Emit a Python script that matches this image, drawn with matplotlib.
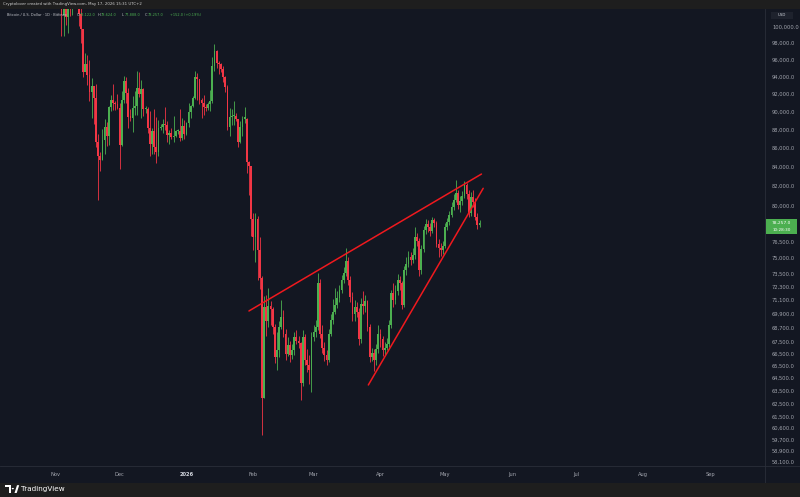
import numpy as np
import matplotlib
matplotlib.use("Agg")
import matplotlib.pyplot as plt
from matplotlib.patches import Rectangle, Circle, Polygon
from matplotlib.lines import Line2D
from matplotlib.ticker import FixedLocator, NullLocator

# BTC/USD daily candles (Bitfinex), Nov 1 2025 -> May 17 2026, thousand USD
first_open = 109.6

closes_nov = [110.1, 110.6, 106.5, 101.5, 103.9, 101.3, 103.3, 102.3, 104.7, 106.0,
              103.0, 101.6, 99.7, 94.5, 95.5, 94.2, 92.2, 92.9, 91.5, 86.6,
              85.1, 84.7, 86.8, 88.3, 87.3, 90.5, 91.3, 90.9, 90.8, 90.4]
highs_nov = [110.6, 111.2, 110.8, 107.3, 104.5, 104.2, 104.0, 103.4, 105.0, 106.6,
             107.3, 105.3, 104.0, 99.8, 96.8, 96.6, 96.0, 93.8, 92.9, 93.1,
             87.5, 85.6, 88.0, 89.2, 88.8, 90.6, 91.9, 93.1, 91.2, 92.0]
lows_nov = [109.4, 109.5, 105.3, 98.9, 98.9, 100.3, 99.3, 101.4, 101.5, 104.3,
            102.5, 100.1, 98.0, 94.0, 94.6, 93.0, 91.2, 89.3, 88.6, 86.1,
            80.6, 83.5, 84.7, 85.3, 86.2, 86.3, 90.1, 90.2, 90.2, 90.3]

closes_dec = [86.3, 91.3, 93.5, 92.1, 89.4, 89.3, 90.4, 90.6, 92.7, 92.0,
              92.5, 90.3, 90.3, 88.2, 86.4, 87.8, 86.1, 85.5, 88.1, 88.3,
              88.6, 88.5, 87.4, 87.6, 87.2, 87.3, 87.8, 87.8, 87.1, 88.4, 87.5]
highs_dec = [91.0, 92.3, 94.1, 94.0, 92.7, 90.3, 91.7, 92.3, 94.6, 94.5,
             93.6, 92.7, 90.6, 90.5, 90.0, 88.2, 90.3, 89.4, 89.0, 88.6,
             89.1, 90.5, 88.9, 87.9, 88.1, 89.5, 87.9, 88.0, 90.3, 89.3, 89.0]
lows_dec = [83.8, 86.2, 91.0, 90.9, 88.1, 88.9, 87.7, 89.6, 89.6, 91.6,
            89.3, 89.5, 89.8, 87.6, 85.1, 85.3, 85.3, 84.4, 85.1, 87.9,
            87.6, 87.9, 86.6, 86.4, 86.9, 86.6, 87.2, 87.5, 86.7, 86.8, 87.0]

closes_jan = [88.7, 89.9, 90.6, 91.5, 93.9, 93.7, 91.3, 91.0, 90.5, 90.4,
              90.8, 91.2, 95.3, 97.0, 95.6, 95.5, 94.9, 93.9, 92.8, 88.3,
              89.4, 89.5, 89.5, 89.2, 86.6, 88.3, 89.2, 89.2, 84.5, 84.1, 78.7]
highs_jan = [88.8, 90.9, 90.7, 91.8, 94.7, 94.4, 93.6, 91.5, 91.9, 90.8,
             91.1, 92.4, 96.3, 97.9, 97.2, 95.8, 95.6, 95.3, 94.1, 93.0,
             90.4, 90.3, 91.2, 89.8, 89.2, 88.9, 89.5, 90.5, 89.3, 84.6, 84.1]
lows_jan = [87.4, 88.3, 89.3, 90.5, 91.4, 91.3, 90.8, 89.3, 89.6, 90.1,
            90.2, 90.0, 91.0, 94.6, 95.0, 94.3, 94.5, 93.4, 92.2, 87.9,
            87.3, 88.5, 88.5, 88.9, 86.1, 86.5, 87.3, 88.7, 83.3, 81.1, 77.0]

closes_feb = [76.9, 78.7, 75.7, 73.1, 62.9, 70.5, 69.3, 70.6, 70.3, 68.8,
              66.2, 66.8, 68.8, 69.6, 68.2, 66.5, 67.2, 66.4, 66.8, 67.9,
              67.6, 67.4, 64.1, 67.9, 66.0, 65.6, 65.2, 67.9]
highs_feb = [79.3, 79.3, 79.0, 76.9, 73.3, 71.5, 71.6, 72.2, 71.0, 70.5,
             69.0, 68.3, 69.3, 71.1, 70.2, 68.6, 67.9, 67.6, 67.3, 68.3,
             68.5, 68.0, 67.5, 68.5, 68.2, 66.9, 66.4, 68.3]
lows_feb = [75.7, 74.6, 72.9, 72.1, 60.1, 62.9, 68.0, 68.8, 68.9, 68.2,
            65.7, 65.2, 66.2, 68.6, 67.9, 66.0, 66.3, 65.8, 66.1, 66.4,
            67.3, 67.0, 62.8, 63.9, 65.6, 65.0, 64.0, 63.4]

closes_mar = [68.3, 68.8, 72.6, 68.2, 67.0, 66.4, 66.0, 68.2, 69.4, 70.1,
              70.7, 71.3, 72.0, 72.9, 73.6, 74.7, 72.9, 71.4, 69.9, 70.5,
              70.1, 67.7, 70.8, 70.6, 71.0, 68.8, 66.2, 66.6, 66.0, 66.9, 68.2]
highs_mar = [68.9, 69.4, 73.6, 73.0, 68.9, 67.5, 66.8, 68.6, 69.9, 71.2,
             72.2, 71.9, 72.5, 73.4, 74.1, 75.9, 75.0, 73.3, 71.8, 71.1,
             70.9, 70.4, 71.3, 71.9, 71.6, 71.1, 69.0, 67.0, 66.9, 67.3, 68.9]
lows_mar = [67.6, 67.9, 68.5, 67.8, 66.6, 65.9, 65.6, 65.8, 68.0, 69.0,
            69.9, 70.4, 70.9, 71.7, 72.6, 73.3, 72.5, 70.9, 69.3, 69.3,
            69.6, 67.2, 67.4, 69.9, 70.1, 68.4, 65.8, 65.9, 65.1, 65.6, 66.6]

closes_apr = [67.7, 66.8, 67.0, 67.3, 68.9, 71.7, 71.1, 71.9, 72.9, 72.6,
              70.7, 73.8, 74.4, 75.0, 74.8, 75.2, 76.9, 76.6, 73.8, 75.8,
              77.6, 78.2, 77.9, 77.5, 78.6, 78.3, 76.3, 75.9, 75.7, 76.1]
highs_apr = [68.6, 68.0, 67.5, 67.8, 69.4, 72.0, 72.6, 72.5, 73.5, 73.3,
             72.8, 74.2, 75.0, 75.6, 75.5, 75.9, 77.9, 77.3, 76.8, 76.2,
             78.0, 78.7, 78.6, 78.3, 78.9, 78.8, 78.5, 76.7, 76.4, 76.6]
lows_apr = [67.1, 66.3, 66.4, 66.8, 67.1, 68.7, 70.5, 70.8, 71.6, 72.0,
            70.3, 70.5, 73.4, 74.1, 74.3, 74.5, 74.9, 76.1, 73.3, 73.5,
            75.5, 77.2, 77.4, 77.0, 77.3, 77.9, 76.0, 75.0, 75.1, 75.3]

closes_may = [77.9, 78.4, 79.1, 79.9, 80.6, 81.3, 80.1, 80.5, 81.0, 82.1,
              81.2, 79.3, 80.9, 80.4, 78.9, 78.105, 78.257]
highs_may = [78.3, 78.8, 79.5, 80.4, 81.2, 82.6, 81.6, 81.0, 81.5, 82.5,
             82.3, 81.6, 81.4, 81.6, 80.8, 79.3, 78.624]
lows_may = [75.9, 77.6, 78.1, 78.9, 79.6, 80.4, 79.7, 79.4, 80.1, 80.8,
            80.7, 78.9, 79.0, 79.9, 78.6, 77.7, 77.888]

# hand-drawn trend lines (day index from Nov 1, price in thousand USD)
upper_line_days = [90.0, 197.9]
upper_line_prices = [70.15, 83.23]
lower_line_days = [145.4, 198.7]
lower_line_prices = [63.96, 81.76]

# axes labels
price_ticks = [100000, 98000, 96000, 94000, 92000, 90000, 88000, 86000, 84000, 82000,
               80000, 76500, 75000, 73500, 72300, 71100, 69900, 68700, 67500, 66500,
               65500, 64500, 63500, 62500, 61500, 60600, 59700, 58900, 58100]
month_days = [0, 30, 61, 92, 120, 151, 181, 212, 242, 273, 304]
month_labels = ["Nov", "Dec", "2026", "Feb", "Mar", "Apr", "May", "Jun", "Jul", "Aug", "Sep"]

bg = "#131722"
band = "#1e1e1e"
line_col = "#2a2e39"
txt_col = "#a3a6af"
up_col = "#4caf50"
dn_col = "#f23645"
trend_col = "#f0191e"

W, H = 800, 497


def fx(x):
    return x / W


def fy(y):
    return 1 - y / H


closes = np.array(closes_nov + closes_dec + closes_jan + closes_feb + closes_mar + closes_apr + closes_may) * 1000
highs = np.array(highs_nov + highs_dec + highs_jan + highs_feb + highs_mar + highs_apr + highs_may) * 1000
lows = np.array(lows_nov + lows_dec + lows_jan + lows_feb + lows_mar + lows_apr + lows_may) * 1000
opens = np.concatenate([[first_open * 1000], closes[:-1]])
days = np.arange(len(closes))

fig = plt.figure(figsize=(8, 4.97), dpi=100)
fig.patch.set_facecolor(bg)

ax = fig.add_axes([0, fy(466), fx(765), (466 - 9) / H])
ax.set_facecolor(bg)
ax.set_yscale("log")
ax.set_xlim(-55 / 2.155, (765 - 55) / 2.155)
ax.set_ylim(100000 * np.exp(-(466 - 27) / 801), 100000 * np.exp(18 / 801))

colors = [up_col if c >= o else dn_col for o, c in zip(opens, closes)]
lo = np.minimum(opens, closes)
hi = np.maximum(np.maximum(opens, closes), lo * 1.0015)
ax.vlines(days, lows, highs, colors=colors, linewidth=0.6, zorder=2)
ax.bar(days, hi - lo, bottom=lo, width=0.82, color=colors, linewidth=0, zorder=3)

ax.plot(upper_line_days, np.array(upper_line_prices) * 1000, color=trend_col, lw=1.1,
        solid_capstyle="round", zorder=4)
ax.plot(lower_line_days, np.array(lower_line_prices) * 1000, color=trend_col, lw=1.1,
        solid_capstyle="round", zorder=4)

# price axis on the right
ax.yaxis.tick_right()
ax.yaxis.set_major_locator(FixedLocator(price_ticks))
ax.yaxis.set_minor_locator(NullLocator())
ax.set_yticklabels([f"{v:,.1f}" for v in price_ticks])
ax.tick_params(axis="y", length=0, pad=5, labelsize=3.7, labelcolor=txt_col)

# time axis
ax.set_xticks(month_days)
ax.set_xticklabels(month_labels)
ax.xaxis.set_minor_locator(NullLocator())
ax.tick_params(axis="x", length=0, pad=4.5, labelsize=3.7, labelcolor=txt_col)
for lab in ax.get_xticklabels():
    if lab.get_text() == "2026":
        lab.set_fontweight("bold")
        lab.set_color("#d1d4dc")

for s in ["top", "left", "bottom"]:
    ax.spines[s].set_visible(False)
ax.spines["right"].set_color(line_col)
ax.spines["right"].set_linewidth(0.6)

fig.add_artist(Line2D([0, 1], [fy(466), fy(466)], transform=fig.transFigure,
                      color=line_col, lw=0.6))
fig.add_artist(Line2D([fx(765), fx(765)], [fy(483), fy(466)], transform=fig.transFigure,
                      color=line_col, lw=0.6))

# top and bottom bands
fig.add_artist(Rectangle((0, fy(9)), 1, 9 / H, transform=fig.transFigure,
                         facecolor=band, edgecolor="none", zorder=5))
fig.add_artist(Rectangle((0, 0), 1, fy(483), transform=fig.transFigure,
                         facecolor=band, edgecolor="none", zorder=5))

fig.text(fx(3), fy(4.5), "Cryptolover created with TradingView.com, May 17, 2026 15:31 UTC+2",
         fontsize=2.8, color="#d0d0d0", va="center", ha="left", zorder=6)

# legend line with OHLC of the last candle
fig.text(fx(7), fy(15.5), "Bitcoin / U.S. Dollar \u00b7 1D \u00b7 Bitfinex", fontsize=2.5,
         color="#c8cad0", va="center", ha="left")
ohlc = [("O", "78,122.0", 77), ("H", "78,624.0", 98), ("L", "77,888.0", 122), ("C", "78,257.0", 145)]
for key, val, xp in ohlc:
    fig.text(fx(xp), fy(15.5), key, fontsize=2.5, color="#c8cad0", va="center", ha="left")
    fig.text(fx(xp + 2.8), fy(15.5), val, fontsize=2.5, color=up_col, va="center", ha="left")
fig.text(fx(170), fy(15.5), "+152.0 (+0.19%)", fontsize=2.5, color=up_col, va="center", ha="left")

# USD box
fig.add_artist(Rectangle((fx(771), fy(19)), fx(22), 7 / H, transform=fig.transFigure,
                         facecolor="#1e222d", edgecolor="none"))
fig.text(fx(782), fy(15.5), "USD", fontsize=2.8, color="#d1d4dc", va="center", ha="center")

# last price tag
last_y = ax.transData.transform((0, closes[-1]))[1] / fig.dpi / fig.get_figheight()
fig.add_artist(Rectangle((fx(766), last_y - 11 / H), fx(31), 15 / H, transform=fig.transFigure,
                         facecolor=up_col, edgecolor="none", zorder=6))
fig.text(fx(781.5), last_y + 0.5 / H, f"{closes[-1]:,.1f}", fontsize=3.2, color="white",
         va="center", ha="center", zorder=7)
fig.text(fx(781.5), last_y - 6.5 / H, "10:28:30", fontsize=3.0, color="white",
         va="center", ha="center", zorder=7)

# TradingView logo
fig.add_artist(Rectangle((fx(5), fy(487)), fx(6), 1.8 / H, transform=fig.transFigure,
                         facecolor="white", edgecolor="none", zorder=6))
fig.add_artist(Rectangle((fx(8.5), fy(493)), fx(2.5), 6 / H, transform=fig.transFigure,
                         facecolor="white", edgecolor="none", zorder=6))
fig.add_artist(Circle((fx(12.8), fy(488.6)), 1.1 / W, transform=fig.transFigure,
                      facecolor="white", edgecolor="none", zorder=6))
fig.add_artist(Polygon([(fx(14.5), fy(493)), (fx(17), fy(485.2)), (fx(19.2), fy(485.2)),
                        (fx(16.7), fy(493))], closed=True, transform=fig.transFigure,
                       facecolor="white", edgecolor="none", zorder=6))
fig.text(fx(21), fy(489), "TradingView", fontsize=5.2, color="white", va="center",
         ha="left", zorder=6)

fig.savefig("out.png", dpi=100, facecolor=fig.get_facecolor())
